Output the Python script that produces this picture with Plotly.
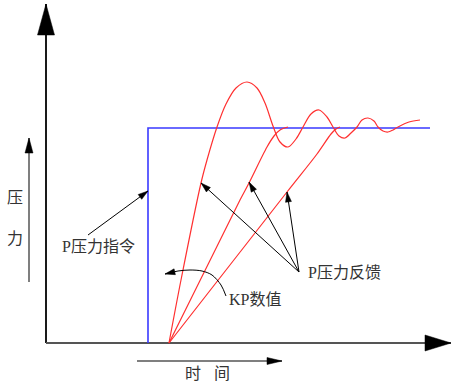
import math
import plotly.graph_objects as go

# canvas is laid out in picture pixels: x to the right, y downwards
W, H = 452, 383

# pressure command (blue step)
cmd_x = [148, 148, 430]
cmd_y = [343, 128, 128]

# pressure feedback curves for three KP values (red)
fast_x = [169, 181, 201, 207, 217, 226, 236, 247, 257, 265, 273, 280, 288, 296, 303,
          311, 319, 327, 333, 339, 345, 351, 357, 362, 368, 374, 378, 383, 388, 393,
          398, 409, 420]
fast_y = [343, 280, 183, 160, 127, 104, 88, 82, 88, 103, 126, 142, 147, 139, 127,
          114, 110, 117, 127, 136, 138, 133, 127, 120, 118, 121, 127, 131, 132, 130,
          127, 122, 120]
mid_x = [169, 240, 249, 267, 274, 280, 288]
mid_y = [343, 200, 183, 147, 136, 130, 127]
slow_x = [169, 287, 317, 331, 336, 340]
slow_y = [343, 192, 154, 134, 129, 127]

# labels
labels = ["压", "力", "时", "间", "P压力指令", "KP数值", "P压力反馈"]
label_x = [15, 15, 193, 222, 98, 255, 344]
label_y = [197, 238, 373, 373, 246, 299, 272]

# pointer arrows: (start, tip)
cmd_arrow = [(88, 235), (148, 191)]
fb_from = (299, 272)
fb_tips = [(201, 183), (249, 182), (287, 192)]
kp_curve_x = [226, 221, 212, 202, 190, 178, 165]
kp_curve_y = [296, 285, 275, 271, 270, 271, 274]


def head(tip, frm, length, half):
    ux, uy = tip[0] - frm[0], tip[1] - frm[1]
    n = math.hypot(ux, uy)
    ux, uy = ux / n, uy / n
    bx, by = tip[0] - length * ux, tip[1] - length * uy
    return ([tip[0], bx - half * uy, bx + half * uy, tip[0]],
            [tip[1], by + half * ux, by - half * ux, tip[1]])


fig = go.Figure()


def line(x, y, color, width, shape="linear"):
    fig.add_trace(go.Scatter(x=x, y=y, mode="lines",
                             line=dict(color=color, width=width, shape=shape, smoothing=0.9),
                             hoverinfo="skip", showlegend=False))


def arrow(frm, tip, color, width, length, half, head_color="#000000"):
    line([frm[0], tip[0]], [frm[1], tip[1]], color, width)
    hx, hy = head(tip, frm, length, half)
    fig.add_trace(go.Scatter(x=hx, y=hy, mode="lines", fill="toself",
                             fillcolor=head_color, line=dict(color=head_color, width=0.5),
                             hoverinfo="skip", showlegend=False))


# axes
arrow((46, 343), (46, 4), "#1a1a1a", 2, 31, 8.5)
arrow((46, 343), (451, 343), "#555555", 2, 26, 8)
arrow((29, 282), (29, 138), "#555555", 1.5, 15, 4)
arrow((137, 361), (282, 361), "#555555", 1.5, 15, 3.5)

line(cmd_x, cmd_y, "#3a3aff", 1.6)
line(slow_x, slow_y, "#ff3030", 1.2, "spline")
line(mid_x, mid_y, "#ff3030", 1.2, "spline")
line(fast_x, fast_y, "#ff3030", 1.2, "spline")

arrow(cmd_arrow[0], cmd_arrow[1], "#000000", 1, 10, 3)
for t in fb_tips:
    arrow(fb_from, t, "#000000", 1, 10, 3)
line(kp_curve_x, kp_curve_y, "#000000", 1, "spline")
hx, hy = head((kp_curve_x[-1], kp_curve_y[-1]), (kp_curve_x[-2], kp_curve_y[-2]), 10, 3)
fig.add_trace(go.Scatter(x=hx, y=hy, mode="lines", fill="toself", fillcolor="#000000",
                         line=dict(color="#000000", width=0.5),
                         hoverinfo="skip", showlegend=False))

for txt, x, y in zip(labels, label_x, label_y):
    fig.add_annotation(x=x, y=y, xref="x", yref="y", text=txt, showarrow=False,
                       font=dict(family="Liberation Serif, Noto Sans CJK SC", size=16,
                                 color="#333333"))

fig.update_layout(
    width=W, height=H,
    margin=dict(l=0, r=0, t=0, b=0),
    plot_bgcolor="white", paper_bgcolor="white",
    xaxis=dict(range=[0, W], visible=False, fixedrange=True),
    yaxis=dict(range=[H, 0], visible=False, fixedrange=True))

# drop the default page margin so picture pixels line up with the window
fig.write_html("out.html", config=dict(displayModeBar=False),
               post_script="document.body.style.margin='0';document.body.style.overflow='hidden';")
